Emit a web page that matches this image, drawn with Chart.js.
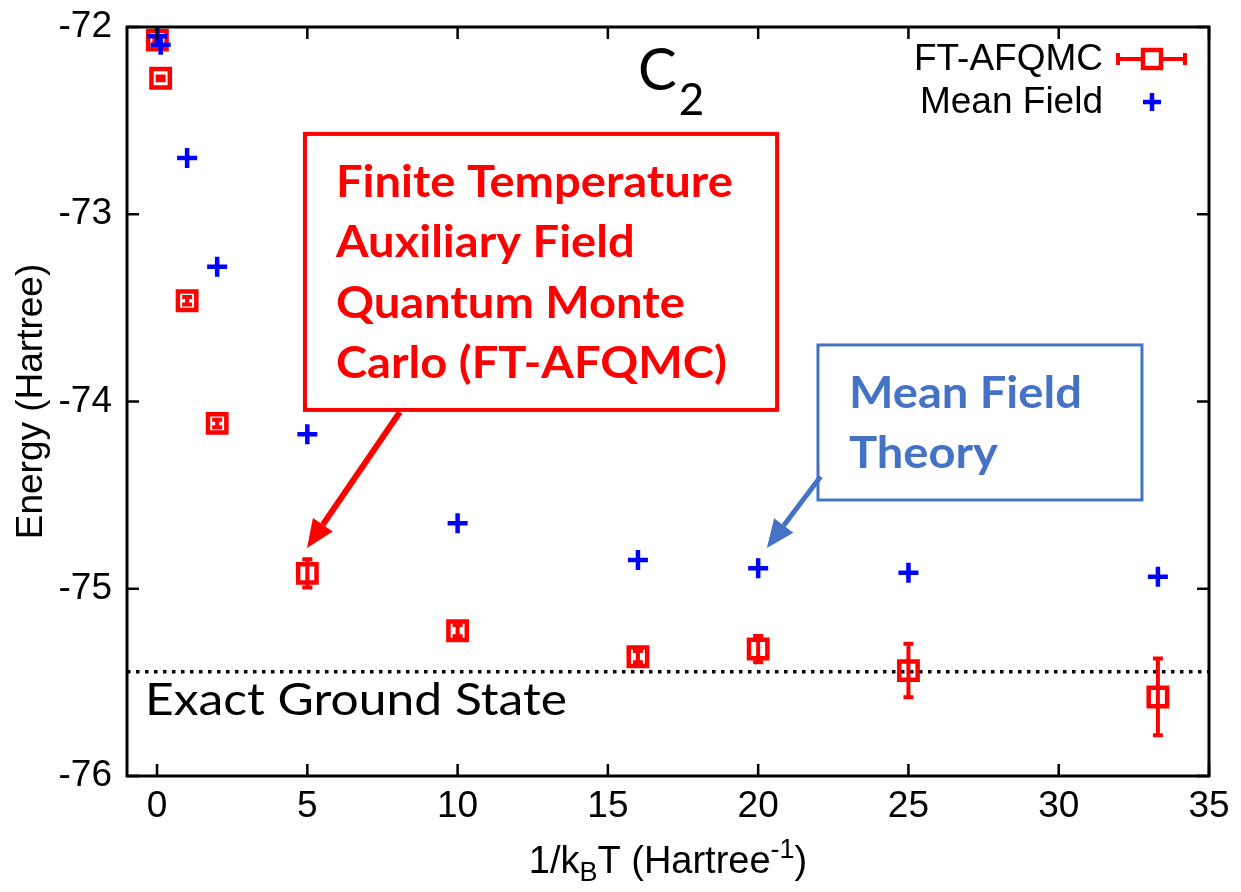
<!DOCTYPE html>
<html>
<head>
<meta charset="utf-8">
<title>C2 energy vs inverse temperature</title>
<script src="https://cdn.jsdelivr.net/npm/chart.js@4.4.1/dist/chart.umd.min.js"></script>
<style>
  html, body { margin: 0; padding: 0; background: #fff; }
  #wrap { width: 1241px; height: 892px; }
</style>
</head>
<body>
<div id="wrap"><canvas id="energyChart" width="1241" height="892"></canvas></div>
<script>
// inverse temperature 1/kBT (Hartree^-1)
const beta = [0.01, 0.12, 1, 2, 5, 10, 16, 20, 25, 33.3];
// FT-AFQMC energies and their statistical error bars (Hartree)
const afqmcEnergy = [-72.07, -72.274, -73.462, -74.117, -74.918, -75.224, -75.363, -75.322, -75.437, -75.578];
const afqmcError = [0.01, 0.01, 0.02, 0.02, 0.075, 0.03, 0.03, 0.07, 0.143, 0.205];
// mean field energies (Hartree)
const mfEnergy = [-72.05, -72.095, -72.70, -73.28, -74.175, -74.65, -74.847, -74.891, -74.914, -74.936];
// exact ground state energy (Hartree)
const exactGroundState = -75.443;

const xTicks = [0, 5, 10, 15, 20, 25, 30, 35];
const yTicks = [-76, -75, -74, -73, -72];

const RED = '#ff0000';
const BLUE = '#0000ff';
const NOTE_BLUE = '#4472c4';
const AXIS_FONT = '"Liberation Sans", Arial, sans-serif';
const NOTE_FONT = 'Lato, "Open Sans", sans-serif';

// callout boxes and arrows, in data coordinates
const afqmcNote = {
  x0: 4.92, x1: 20.63, y0: -72.571, y1: -74.045,
  lines: ['Finite Temperature', 'Auxiliary Field', 'Quantum Monte', 'Carlo (FT-AFQMC)'],
  arrowFrom: [8.08, -74.056], arrowTo: [4.99, -74.782]
};
const mfNote = {
  x0: 21.99, x1: 32.77, y0: -73.698, y1: -74.526,
  lines: ['Mean Field', 'Theory'],
  arrowFrom: [22.08, -74.40], arrowTo: [20.29, -74.782]
};

const afqmcPoints = beta.map((b, i) => ({ x: b, y: afqmcEnergy[i] }));
const mfPoints = beta.map((b, i) => ({ x: b, y: mfEnergy[i] }));

function drawErrorBars(chart, meta) {
  const ctx = chart.ctx;
  const ys = chart.scales.y;
  ctx.save();
  ctx.strokeStyle = RED;
  ctx.lineWidth = 4;
  meta.data.forEach((pt, i) => {
    const yTop = ys.getPixelForValue(afqmcEnergy[i] + afqmcError[i]);
    const yBot = ys.getPixelForValue(afqmcEnergy[i] - afqmcError[i]);
    ctx.beginPath();
    ctx.moveTo(pt.x, yTop); ctx.lineTo(pt.x, yBot);
    ctx.moveTo(pt.x - 5, yTop); ctx.lineTo(pt.x + 5, yTop);
    ctx.moveTo(pt.x - 5, yBot); ctx.lineTo(pt.x + 5, yBot);
    ctx.stroke();
  });
  ctx.restore();
}

function arrow(ctx, x0, y0, x1, y1, color, width, headLen, headWidth) {
  const ang = Math.atan2(y1 - y0, x1 - x0);
  const bx = x1 - Math.cos(ang) * headLen;
  const by = y1 - Math.sin(ang) * headLen;
  ctx.save();
  ctx.strokeStyle = color;
  ctx.fillStyle = color;
  ctx.lineWidth = width;
  ctx.beginPath();
  ctx.moveTo(x0, y0); ctx.lineTo(bx, by);
  ctx.stroke();
  const nx = -Math.sin(ang) * headWidth / 2;
  const ny = Math.cos(ang) * headWidth / 2;
  ctx.beginPath();
  ctx.moveTo(x1, y1);
  ctx.lineTo(bx + nx, by + ny);
  ctx.lineTo(bx - nx, by - ny);
  ctx.closePath();
  ctx.fill();
  ctx.restore();
}

// text in the slide-style font, stretched a little sideways to the wanted width
function wideText(ctx, text, x, y, font, width) {
  ctx.save();
  ctx.font = font;
  const sx = width / ctx.measureText(text).width;
  ctx.translate(x, y);
  ctx.scale(sx, 1);
  ctx.fillText(text, 0, 0);
  ctx.restore();
}

function drawNote(chart, note, color, borderWidth) {
  const { ctx, scales: { x, y } } = chart;
  const left = x.getPixelForValue(note.x0);
  const right = x.getPixelForValue(note.x1);
  const top = y.getPixelForValue(note.y0);
  const bottom = y.getPixelForValue(note.y1);
  ctx.save();
  ctx.fillStyle = '#fff';
  ctx.fillRect(left, top, right - left, bottom - top);
  ctx.strokeStyle = color;
  ctx.lineWidth = borderWidth;
  ctx.strokeRect(left, top, right - left, bottom - top);
  ctx.fillStyle = color;
  ctx.textAlign = 'left';
  ctx.textBaseline = 'alphabetic';
  const font = 'bold 44px ' + NOTE_FONT;
  ctx.font = font;
  const stretch = 1.07;
  note.lines.forEach((t, i) => {
    const w = ctx.measureText(t).width * stretch;
    wideText(ctx, t, left + 31, top + 63 + i * 60.5, font, w);
  });
  ctx.restore();
  arrow(ctx,
    x.getPixelForValue(note.arrowFrom[0]), y.getPixelForValue(note.arrowFrom[1]),
    x.getPixelForValue(note.arrowTo[0]), y.getPixelForValue(note.arrowTo[1]),
    color, borderWidth + 2, 28, 24);
}

const decorations = {
  id: 'decorations',
  afterDatasetDraw(chart, args) {
    if (args.index === 1) drawErrorBars(chart, args.meta);
  },
  afterDraw(chart) {
    const { ctx, chartArea: a, scales: { x, y } } = chart;

    // frame with inward ticks on all four sides
    ctx.save();
    ctx.strokeStyle = '#000';
    ctx.lineWidth = 2.5;
    ctx.beginPath();
    xTicks.forEach(v => {
      const px = x.getPixelForValue(v);
      ctx.moveTo(px, a.bottom); ctx.lineTo(px, a.bottom - 12);
      ctx.moveTo(px, a.top); ctx.lineTo(px, a.top + 12);
    });
    yTicks.forEach(v => {
      const py = y.getPixelForValue(v);
      ctx.moveTo(a.left, py); ctx.lineTo(a.left + 12, py);
      ctx.moveTo(a.right, py); ctx.lineTo(a.right - 12, py);
    });
    ctx.stroke();
    ctx.lineWidth = 3;
    ctx.strokeRect(a.left, a.top, a.right - a.left, a.bottom - a.top);
    ctx.restore();

    // axis titles
    ctx.save();
    ctx.fillStyle = '#000';
    ctx.textBaseline = 'alphabetic';
    ctx.font = '37px ' + AXIS_FONT;
    ctx.translate(42, (a.top + a.bottom) / 2);
    ctx.rotate(-Math.PI / 2);
    ctx.textAlign = 'center';
    ctx.fillText('Energy (Hartree)', 0, 0);
    ctx.restore();

    ctx.save();
    ctx.fillStyle = '#000';
    ctx.textBaseline = 'alphabetic';
    const big = '38px ' + AXIS_FONT;
    const small = '27px ' + AXIS_FONT;
    const parts = [
      ['1/k', big, 0], ['B', small, 8], ['T (Hartree', big, 0], ['-1', small, -15], [')', big, 0]
    ];
    let total = 0;
    parts.forEach(p => { ctx.font = p[1]; total += ctx.measureText(p[0]).width; });
    let cx = (a.left + a.right) / 2 - total / 2;
    const base = 873;
    parts.forEach(p => {
      ctx.font = p[1];
      ctx.fillText(p[0], cx, base + p[2]);
      cx += ctx.measureText(p[0]).width;
    });
    ctx.restore();

    // molecule label
    ctx.save();
    ctx.fillStyle = '#000';
    ctx.font = '58px ' + NOTE_FONT;
    ctx.fillText('C', 638, 90);
    const cw = ctx.measureText('C').width;
    ctx.font = '44px ' + NOTE_FONT;
    ctx.fillText('2', 638 + cw + 2, 115);
    ctx.restore();

    // reference line label
    ctx.save();
    ctx.fillStyle = '#000';
    wideText(ctx, 'Exact Ground State', 145, 715, '44px ' + NOTE_FONT, 422);
    ctx.restore();

    // key
    ctx.save();
    ctx.fillStyle = '#000';
    ctx.font = '37px ' + AXIS_FONT;
    ctx.textAlign = 'right';
    ctx.textBaseline = 'middle';
    ctx.fillText('FT-AFQMC', 1103, 60);
    ctx.fillText('Mean Field', 1103, 103);
    ctx.strokeStyle = RED;
    ctx.lineWidth = 4;
    ctx.beginPath();
    ctx.moveTo(1118, 59); ctx.lineTo(1185, 59);
    ctx.moveTo(1118, 53); ctx.lineTo(1118, 65);
    ctx.moveTo(1185, 53); ctx.lineTo(1185, 65);
    ctx.stroke();
    ctx.fillStyle = '#fff';
    ctx.fillRect(1143, 50, 18, 18);
    ctx.lineWidth = 4.5;
    ctx.strokeRect(1143, 50, 18, 18);
    ctx.strokeStyle = BLUE;
    ctx.beginPath();
    ctx.moveTo(1143, 102); ctx.lineTo(1161, 102);
    ctx.moveTo(1152, 93); ctx.lineTo(1152, 111);
    ctx.stroke();
    ctx.restore();

    drawNote(chart, afqmcNote, RED, 4);
    drawNote(chart, mfNote, NOTE_BLUE, 3);
  }
};

new Chart(document.getElementById('energyChart'), {
  type: 'scatter',
  data: {
    datasets: [
      {
        label: 'Mean Field',
        data: mfPoints,
        pointStyle: 'cross',
        pointRadius: 10,
        borderWidth: 4.5,
        borderColor: BLUE,
        order: 0,
        clip: false
      },
      {
        label: 'FT-AFQMC',
        data: afqmcPoints,
        pointStyle: 'rect',
        pointRadius: 13,
        borderWidth: 4.5,
        borderColor: RED,
        backgroundColor: 'rgba(0,0,0,0)',
        order: 1,
        clip: false
      },
      {
        type: 'line',
        label: 'Exact Ground State',
        data: [{ x: -1, y: exactGroundState }, { x: 35, y: exactGroundState }],
        borderColor: '#000',
        borderWidth: 3.5,
        borderDash: [3.5, 5.5],
        pointRadius: 0,
        order: 2
      }
    ]
  },
  options: {
    responsive: false,
    animation: false,
    layout: { padding: { top: 27, right: 32, left: 0, bottom: 0 } },
    plugins: { legend: { display: false }, tooltip: { enabled: false } },
    scales: {
      x: {
        type: 'linear',
        min: -1,
        max: 35,
        afterBuildTicks: s => { s.ticks = xTicks.map(v => ({ value: v })); },
        afterFit: s => { s.height = 116; s.paddingLeft = 0; s.paddingRight = 0; },
        grid: { display: false, drawTicks: false },
        border: { display: false },
        ticks: { color: '#000', padding: 9, font: { family: AXIS_FONT, size: 37 }, maxRotation: 0 }
      },
      y: {
        type: 'linear',
        min: -76,
        max: -72,
        afterBuildTicks: s => { s.ticks = yTicks.map(v => ({ value: v })); },
        afterFit: s => { s.width = 127; s.paddingTop = 0; s.paddingBottom = 0; },
        grid: { display: false, drawTicks: false },
        border: { display: false },
        ticks: { color: '#000', padding: 15, font: { family: AXIS_FONT, size: 37 } }
      }
    }
  },
  plugins: [decorations]
});
</script>
</body>
</html>
